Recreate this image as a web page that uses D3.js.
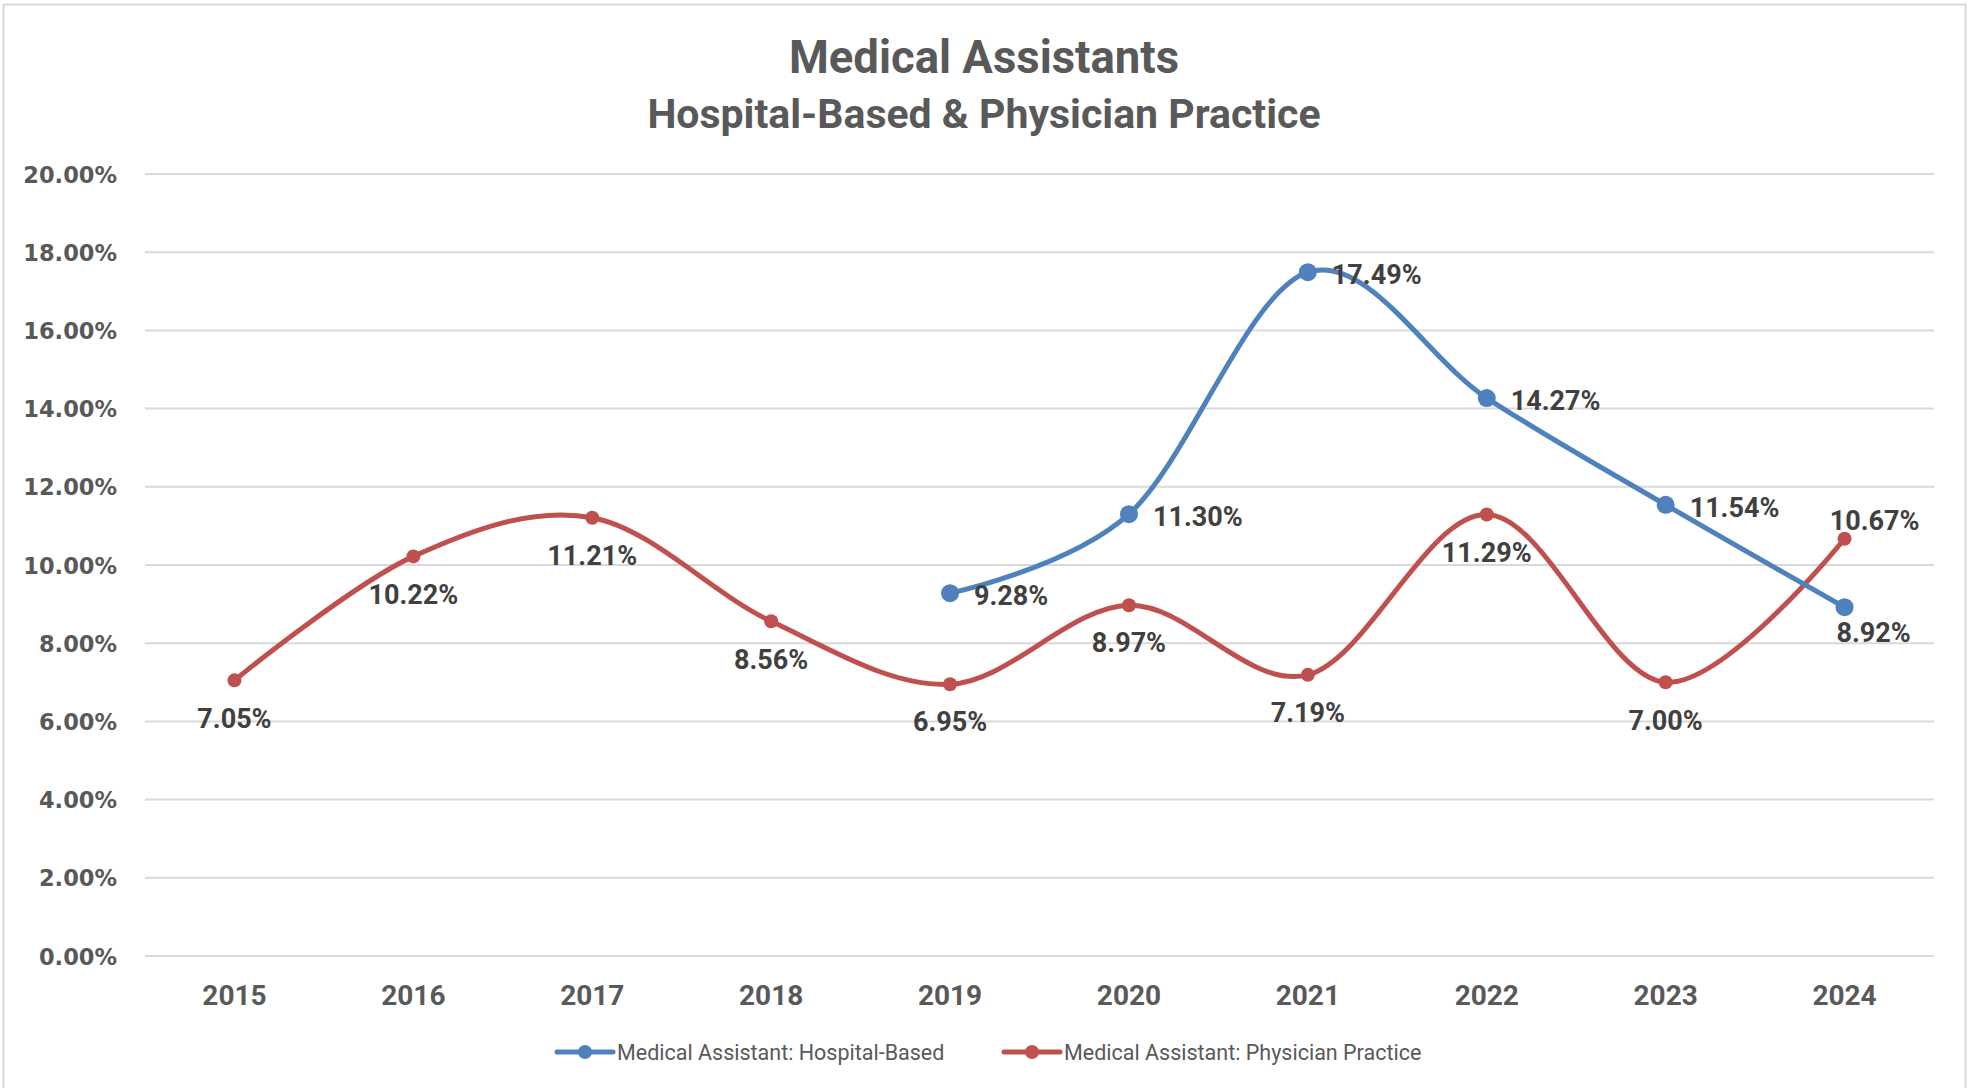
<!DOCTYPE html>
<html>
<head>
<meta charset="utf-8">
<script src="https://cdn.jsdelivr.net/npm/d3@7"></script>
<style>
  html, body { margin: 0; padding: 0; background: #ffffff; }
  svg { display: block; }
</style>
</head>
<body>
<svg id="chart" width="1973" height="1088"></svg>
<script>
// ---- data ----
const years = ["2015","2016","2017","2018","2019","2020","2021","2022","2023","2024"];
const physicianPractice = [7.05, 10.22, 11.21, 8.56, 6.95, 8.97, 7.19, 11.29, 7.00, 10.67];
const hospitalBased = [null, null, null, null, 9.28, 11.30, 17.49, 14.27, 11.54, 8.92];
const yTicks = [0, 2, 4, 6, 8, 10, 12, 14, 16, 18, 20];
const seriesNames = ["Medical Assistant: Hospital-Based", "Medical Assistant: Physician Practice"];
const titleLines = ["Medical Assistants", "Hospital-Based & Physician Practice"];

// ---- layout ----
const W = 1973, H = 1088;
const plot = { left: 145, right: 1934, top: 174, bottom: 956 };
const narrow = "'Roboto', 'Liberation Sans', sans-serif";
const textGray = "#595959";
const labelGray = "#404040";
const blue = "#4F81BD", red = "#C0504D";

const svg = d3.select("#chart");

// chart border
svg.append("rect")
  .attr("x", 3.5).attr("y", 4.5)
  .attr("width", 1962).attr("height", 1095)
  .attr("fill", "#fff").attr("stroke", "#D9D9D9").attr("stroke-width", 2);

const x = d3.scaleBand().domain(years).range([plot.left, plot.right]);
const xc = d => x(d) + x.bandwidth() / 2;
const y = d3.scaleLinear().domain([0, 20]).range([plot.bottom, plot.top]);

// gridlines
svg.append("g").selectAll("line").data(yTicks).join("line")
  .attr("x1", plot.left).attr("x2", plot.right)
  .attr("y1", d => y(d)).attr("y2", d => y(d))
  .attr("stroke", "#D9D9D9").attr("stroke-width", 2);

// y axis
const yAxis = d3.axisLeft(y).tickValues(yTicks).tickSize(0).tickPadding(0)
  .tickFormat(d => d.toFixed(2) + "%");
const gy = svg.append("g").attr("transform", `translate(${117},0)`).call(yAxis);
gy.select(".domain").remove();
gy.selectAll("text")
  .attr("font-family", "'DejaVu Sans', Verdana, sans-serif")
  .attr("font-weight", "bold").attr("font-size", 22.5)
  .attr("fill", textGray).attr("dy", "0.36em");

// x axis
const xAxis = d3.axisBottom(x).tickSize(0).tickPadding(0);
const gx = svg.append("g").attr("transform", `translate(0,${plot.bottom})`).call(xAxis);
gx.select(".domain").remove();
gx.selectAll("text")
  .attr("font-family", narrow).attr("font-weight", "bold").attr("font-size", 28)
  .attr("fill", textGray).attr("y", 39).attr("dy", "0.36em");

// title
svg.append("g").selectAll("text").data(titleLines).join("text")
  .attr("x", 984).attr("y", (d, i) => i === 0 ? 57 : 113)
  .attr("dy", "0.36em")
  .attr("text-anchor", "middle")
  .attr("font-family", narrow).attr("font-weight", "bold")
  .attr("font-size", (d, i) => i === 0 ? 45.5 : 41)
  .attr("fill", textGray)
  .text(d => d);

// lines
const curve = d3.curveCardinal.tension(0);
function drawSeries(values, color, r, labelPos) {
  const pts = years.map((yr, i) => ({ yr, v: values[i], i })).filter(p => p.v !== null);
  const line = d3.line().x(p => xc(p.yr)).y(p => y(p.v)).curve(curve);
  svg.append("path").datum(pts).attr("d", line)
    .attr("fill", "none").attr("stroke", color).attr("stroke-width", 5)
    .attr("stroke-linecap", "round");
  svg.append("g").selectAll("circle").data(pts).join("circle")
    .attr("cx", p => xc(p.yr)).attr("cy", p => y(p.v)).attr("r", r)
    .attr("fill", color);
  svg.append("g").selectAll("text").data(pts).join("text")
    .each(function (p, k) {
      const pos = labelPos(p, k === pts.length - 1);
      const t = d3.select(this);
      let lx = xc(p.yr), ly = y(p.v), anchor = "middle";
      if (pos === "below") { ly += 37.5; }
      else if (pos === "above") { ly -= 19; lx += 30; }
      else if (pos === "belowShift") { ly += 25; lx += 29; }
      else if (pos === "right") { lx += 24; ly += 2; anchor = "start"; }
      t.attr("x", lx).attr("y", ly).attr("dy", "0.36em").attr("text-anchor", anchor);
    })
    .attr("font-family", narrow).attr("font-weight", "bold").attr("font-size", 27)
    .attr("fill", labelGray)
    .text(p => p.v.toFixed(2) + "%");
}
drawSeries(physicianPractice, red, 7, (p, last) => last ? "above" : "below");
drawSeries(hospitalBased, blue, 9, (p, last) => last ? "belowShift" : "right");

// legend
const legendItems = [
  { name: seriesNames[0], color: blue, x0: 557 },
  { name: seriesNames[1], color: red, x0: 1004 }
];
const lg = svg.append("g");
legendItems.forEach(it => {
  const g = lg.append("g").attr("transform", `translate(${it.x0},1052)`);
  g.append("line").attr("x1", 0).attr("x2", 56).attr("y1", 0).attr("y2", 0)
    .attr("stroke", it.color).attr("stroke-width", 5).attr("stroke-linecap", "round");
  g.append("circle").attr("cx", 28).attr("cy", 0).attr("r", 7).attr("fill", it.color);
  g.append("text").attr("x", 60).attr("y", 0).attr("dy", "0.36em")
    .attr("font-family", narrow).attr("font-size", 21.5).attr("fill", textGray)
    .text(it.name);
});
</script>
</body>
</html>
